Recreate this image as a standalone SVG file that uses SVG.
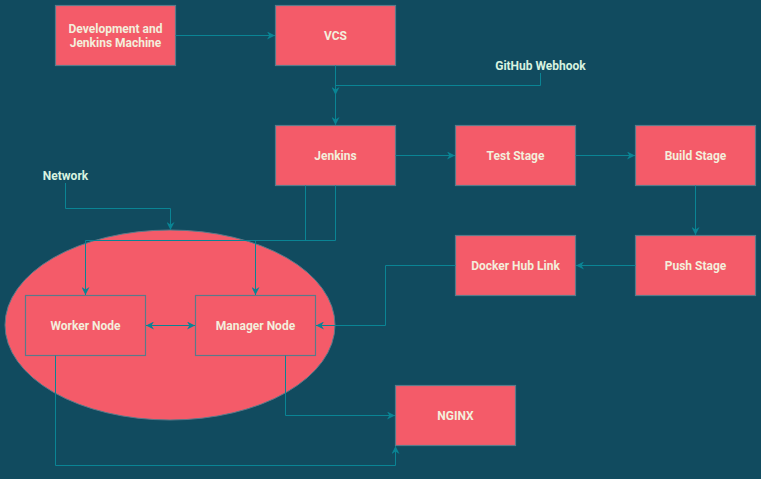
<svg xmlns="http://www.w3.org/2000/svg" width="761" height="479" viewBox="0 0 761 479">
<defs>
<style>
.box{fill:#F45B69;stroke:#5A7A8A;stroke-width:1.2}
.lbl{font-family:Roboto,"Liberation Sans",Arial,sans-serif;font-size:12px;font-weight:bold;fill:#F3EEDC;text-anchor:middle;dominant-baseline:central}
.free{fill:#D8F3E0}
.edge{fill:none;stroke:#0A8494;stroke-width:1}
</style>
<marker id="arr" viewBox="0 0 10 10" refX="10" refY="5" markerWidth="8" markerHeight="8" markerUnits="userSpaceOnUse" orient="auto">
<path d="M0,0 L10,5 L0,10 L3,5 Z" fill="#0A8494"/>
</marker>
<marker id="arrS" viewBox="0 0 10 10" refX="0" refY="5" markerWidth="8" markerHeight="8" markerUnits="userSpaceOnUse" orient="auto">
<path d="M10,0 L0,5 L10,10 L7,5 Z" fill="#0A8494"/>
</marker>
</defs>
<rect width="761" height="479" fill="#114B5F"/>
<g id="swarm">
<ellipse cx="170" cy="325" rx="165" ry="95" fill="#F45B69" stroke="#5A7A8A" stroke-width="1"/>
</g>
<g id="dev"><rect class="box" x="55.5" y="5.5" width="120" height="60"/><text class="lbl" x="115.5" y="29">Development and</text><text class="lbl" x="115.5" y="43">Jenkins Machine</text></g>
<g id="vcs"><rect class="box" x="275.5" y="5.5" width="120" height="60"/><text class="lbl" x="335.5" y="36">VCS</text></g>
<g id="jenkins"><rect class="box" x="275.5" y="125.5" width="120" height="60"/><text class="lbl" x="335.5" y="156">Jenkins</text></g>
<g id="test"><rect class="box" x="455.5" y="125.5" width="120" height="60"/><text class="lbl" x="515.5" y="156">Test Stage</text></g>
<g id="build"><rect class="box" x="635.5" y="125.5" width="120" height="60"/><text class="lbl" x="695.5" y="156">Build Stage</text></g>
<g id="docker"><rect class="box" x="455.5" y="235.5" width="120" height="60"/><text class="lbl" x="515.5" y="266">Docker Hub Link</text></g>
<g id="push"><rect class="box" x="635.5" y="235.5" width="120" height="60"/><text class="lbl" x="695.5" y="266">Push Stage</text></g>
<g id="worker"><rect class="box" x="25.5" y="295.5" width="120" height="60"/><text class="lbl" x="85.5" y="326">Worker Node</text></g>
<g id="manager"><rect class="box" x="195.5" y="295.5" width="120" height="60"/><text class="lbl" x="255.5" y="326">Manager Node</text></g>
<g id="nginx"><rect class="box" x="395.5" y="385.5" width="120" height="60"/><text class="lbl" x="455.5" y="416">NGINX</text></g>
<g id="webhook"><text class="lbl free" x="540.5" y="66">GitHub Webhook</text></g>
<g id="network"><text class="lbl free" x="65.5" y="176">Network</text></g>
<g id="connectors">
<path class="edge" d="M175.5,35.5 H275" marker-end="url(#arr)"/>
<path class="edge" d="M335.5,65.5 V125" marker-end="url(#arr)"/>
<path class="edge" d="M540.5,73 V85.5 H335.5 V95" marker-end="url(#arr)"/>
<path class="edge" d="M395.5,155.5 H455" marker-end="url(#arr)"/>
<path class="edge" d="M575.5,155.5 H635" marker-end="url(#arr)"/>
<path class="edge" d="M695.5,185.5 V235" marker-end="url(#arr)"/>
<path class="edge" d="M635.5,265.5 H576" marker-end="url(#arr)"/>
<path class="edge" d="M455.5,265.5 H385.5 V325.5 H316" marker-end="url(#arr)"/>
<path class="edge" d="M305.5,185.5 V240.5 H85.5 V295" marker-end="url(#arr)"/>
<path class="edge" d="M335.5,185.5 V240.5 H255.5 V295" marker-end="url(#arr)"/>
<path class="edge" d="M65.5,183 V208.5 H170.5 V230" marker-end="url(#arr)"/>
<path class="edge" d="M146,325.5 H195" marker-start="url(#arrS)" marker-end="url(#arr)"/>
<path class="edge" d="M285.5,355.5 V415.5 H395" marker-end="url(#arr)"/>
<path class="edge" d="M55.5,355.5 V465.5 H395.5 V446" marker-end="url(#arr)"/>
</g>
</svg>
